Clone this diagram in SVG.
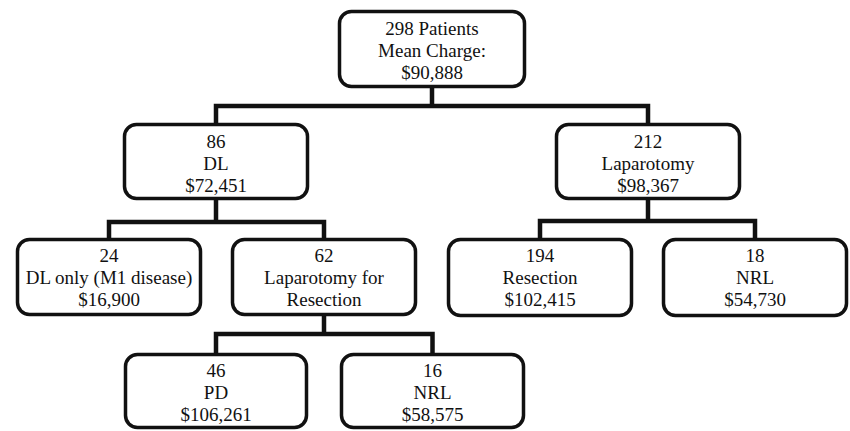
<svg xmlns="http://www.w3.org/2000/svg" width="850" height="431" viewBox="0 0 850 431">
<style>
.box{fill:#fff;stroke:#111;stroke-width:3.5}
.conn{fill:none;stroke:#111;stroke-width:4.5;stroke-linejoin:miter;stroke-linecap:butt}
</style>
<rect width="850" height="431" fill="#fff"/>
<g id="connectors">
<path class="conn" d="M432 87 V106 M216 124 V106 H648 V124"/>
<path class="conn" d="M216 199 V222 M109 239 V222 H324 V239"/>
<path class="conn" d="M324 315 V334 M216 354 V334 H432.5 V354"/>
<path class="conn" d="M648 199 V221 M540 239 V221 H755 V239"/>
</g>
<g font-family="Liberation Serif" font-size="19" fill="#111" text-anchor="middle">
<g id="n-root">
<rect class="box" x="339.5" y="11.5" width="185" height="75" rx="12"/>
<text x="432" y="35">298 Patients</text>
<text x="432" y="57">Mean Charge:</text>
<text x="432" y="79">$90,888</text>
</g>
<g id="n-dl">
<rect class="box" x="124.5" y="124.5" width="183" height="74" rx="12"/>
<text x="216" y="148">86</text>
<text x="216" y="170">DL</text>
<text x="216" y="192">$72,451</text>
</g>
<g id="n-lap">
<rect class="box" x="556.5" y="124.5" width="183" height="74" rx="12"/>
<text x="648" y="148">212</text>
<text x="648" y="170">Laparotomy</text>
<text x="648" y="192">$98,367</text>
</g>
<g id="n-dlonly">
<rect class="box" x="17.5" y="239.5" width="183" height="75" rx="12"/>
<text x="109" y="262">24</text>
<text x="109" y="284">DL only (M1 disease)</text>
<text x="109" y="306">$16,900</text>
</g>
<g id="n-lapres">
<rect class="box" x="232.5" y="239.5" width="183" height="75" rx="12"/>
<text x="324" y="262">62</text>
<text x="324" y="284">Laparotomy for</text>
<text x="324" y="306">Resection</text>
</g>
<g id="n-resection">
<rect class="box" x="448.5" y="239.5" width="183" height="76" rx="12"/>
<text x="540" y="262">194</text>
<text x="540" y="284">Resection</text>
<text x="540" y="306">$102,415</text>
</g>
<g id="n-nrl18">
<rect class="box" x="663.5" y="239.5" width="183" height="76" rx="12"/>
<text x="755" y="262">18</text>
<text x="755" y="284">NRL</text>
<text x="755" y="306">$54,730</text>
</g>
<g id="n-pd">
<rect class="box" x="125.5" y="354.5" width="181" height="73" rx="12"/>
<text x="216" y="377">46</text>
<text x="216" y="399">PD</text>
<text x="216" y="421">$106,261</text>
</g>
<g id="n-nrl16">
<rect class="box" x="341.5" y="354.5" width="182" height="73" rx="12"/>
<text x="432.5" y="377">16</text>
<text x="432.5" y="399">NRL</text>
<text x="432.5" y="421">$58,575</text>
</g>
</g>
</svg>
